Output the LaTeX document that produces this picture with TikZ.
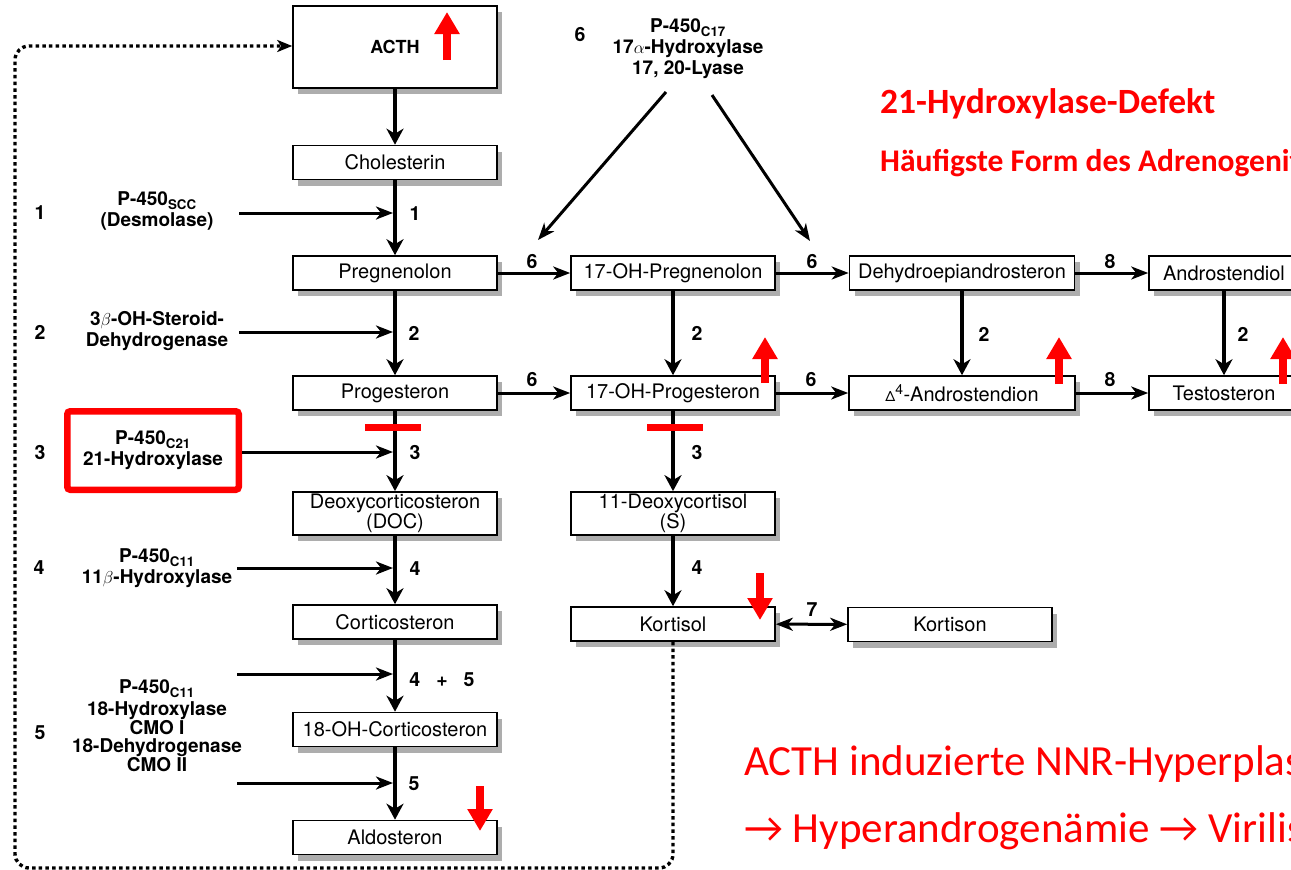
\documentclass[tikz,border=0pt]{standalone}
\usepackage{fontspec}
\setmainfont{TeX Gyre Heros}
\newfontfamily\calibri{Carlito}
\usetikzlibrary{arrows.meta,shadows}
\tikzset{
  box/.style={draw, line width=1.6pt, fill=white, minimum width=204pt, minimum height=34pt,
    inner sep=2pt, align=center, font=\fontsize{20}{18}\selectfont,
    general shadow={fill=black!32, shadow xshift=5pt, shadow yshift=-6pt}},
  lab/.style={font=\bfseries\fontsize{19}{21}\selectfont, align=center, inner sep=0pt},
  num/.style={font=\bfseries\fontsize{19.5}{19.5}\selectfont, inner sep=0pt},
  mainarr/.style={line width=3.8pt, -{Stealth[length=16pt,width=17pt,inset=5pt]}},
  enz/.style={line width=3pt, -{Stealth[length=17pt,width=13pt,inset=5pt]}},
  dblarr/.style={line width=3pt, {Stealth[length=17pt,width=13pt,inset=5pt]}-{Stealth[length=17pt,width=13pt,inset=5pt]}},
  redarr/.style={draw=red, line width=8pt, -{Triangle[length=22pt,width=24pt]}},
  redbar/.style={fill=red},
  feedback/.style={line width=3.4pt, dash pattern=on 3.5pt off 3.2pt, rounded corners=14pt,
    -{Stealth[length=15pt,width=12pt,inset=4pt]}},
  redtext/.style={anchor=base west, text=red, inner sep=0pt},
}
\begin{document}
\begin{tikzpicture}[x=1pt,y=-1pt]
\clip (0,0) rectangle (1291,870);
\fill[white] (0,0) rectangle (1291,870);

% ---- boxes ----
\node[box, minimum height=82pt, font=\bfseries\fontsize{18}{18}\selectfont] (acth) at (395,47) {ACTH};
\node[box] (chol) at (395,162.5) {Cholesterin};
\node[box] (preg) at (395,273) {Pregnenolon};
\node[box] (prog) at (395,393) {Progesteron};
\node[box, minimum height=43pt] (doc) at (395,513.5) {Deoxycorticosteron\\(DOC)};
\node[box] (cort) at (395,622) {Corticosteron};
\node[box] (ohc) at (395,729.5) {18-OH-Corticosteron};
\node[box] (aldo) at (395,837.5) {Aldosteron};

\node[box] (ohpreg) at (673,273) {17-OH-Pregnenolon};
\node[box] (ohprog) at (673,393) {17-OH-Progesteron};
\node[box, minimum height=43pt] (deoxy) at (673,513.5) {11-Deoxycortisol\\(S)};
\node[box] (kortisol) at (673,624) {Kortisol};

\node[box, minimum width=225pt] (dhea) at (962,273) {Dehydroepiandrosteron};
\node[box, minimum width=226pt] (andro) at (962,393) {{\fontsize{14}{14}\selectfont Δ}\textsuperscript{4}-Androstendion};
\node[box] (kortison) at (950,624.5) {Kortison};

\node[box, minimum width=150pt] (diol) at (1224,273) {Androstendiol};
\node[box, minimum width=150pt] (testo) at (1224,393) {Testosteron};

% ---- enzyme labels ----
\node[lab] (l1) at (157,211) {P-450\textsubscript{SCC}\\(Desmolase)};
\node[lab] (l2) at (157,331) {3$\beta$-OH-Steroid-\\Dehydrogenase};
\node[lab, draw=red, line width=6.5pt, rounded corners=3pt, minimum width=171.5pt, minimum height=78.5pt] (l3) at (153,450.5) {P-450\textsubscript{C21}\\21-Hydroxylase};
\node[lab] (l4) at (157,568) {P-450\textsubscript{C11}\\11$\beta$-Hydroxylase};
\node[lab, font=\bfseries\fontsize{19}{17.8}\selectfont] (l5) at (157,726) {P-450\textsubscript{C11}\\[3pt]18-Hydroxylase\\CMO I\\18-Dehydrogenase\\CMO II};
\node[lab] (l6) at (688,49) {P-450\textsubscript{C17}\\17$\alpha$-Hydroxylase\\17, 20-Lyase};

\node[num] (n1) at (40,213) {1};
\node[num] (n2) at (40,332) {2};
\node[num] (n3) at (40,453) {3};
\node[num] (n4) at (39,568) {4};
\node[num] (n5) at (40,733) {5};
\node[num] (n6) at (580,35) {6};

% ---- main column arrows ----
\draw[mainarr] (acth) -- (chol);
\draw[mainarr] (chol) -- (preg);
\draw[mainarr] (preg) -- (prog);
\draw[mainarr] (prog) -- (doc);
\draw[mainarr] (doc) -- (cort);
\draw[mainarr] (cort) -- (ohc);
\draw[mainarr] (ohc) -- (aldo);

\draw[mainarr] (ohpreg) -- (ohprog);
\draw[mainarr] (ohprog) -- (deoxy);
\draw[mainarr] (deoxy) -- (kortisol);
\draw[mainarr] (dhea) -- (andro);
\draw[mainarr] (diol) -- (testo);

% ---- enzyme arrows ----
\coordinate (e1s) at (239,213);  \coordinate (e1e) at (393,213);
\coordinate (e2s) at (239,332);  \coordinate (e2e) at (393,332);
\coordinate (e4s) at (237,568);  \coordinate (e4e) at (393,568);
\coordinate (e45s) at (237,674); \coordinate (e45e) at (393,674);
\coordinate (e5s) at (237,783);  \coordinate (e5e) at (393,783);
\coordinate (e3e) at (393,452);
\draw[enz] (e1s) -- (e1e);
\draw[enz] (e2s) -- (e2e);
\draw[enz] (l3.east |- e3e) -- (e3e);
\draw[enz] (e4s) -- (e4e);
\draw[enz] (e45s) -- (e45e);
\draw[enz] (e5s) -- (e5e);

\node[num] at (415,214) {1};
\node[num] at (414,333) {2};
\node[num] at (415,453) {3};
\node[num] at (415,569) {4};
\node[num] at (442,680) {4\hspace{16pt}+\hspace{16pt}5};
\node[num] at (414,784) {5};

% ---- horizontal row arrows ----
\draw[enz] (preg) -- (ohpreg);
\draw[enz] (ohpreg) -- (dhea);
\draw[enz] (dhea) -- (diol);
\draw[enz] (prog) -- (ohprog);
\draw[enz] (ohprog) -- (andro);
\draw[enz] (andro) -- (testo);
\draw[dblarr] (kortisol) -- (kortison);

\node[num] at (532,262) {6};
\node[num] at (812,262) {6};
\node[num] at (1110,262) {8};
\node[num] at (532,380) {6};
\node[num] at (811,380) {6};
\node[num] at (1110,380) {8};
\node[num] at (697,333) {2};
\node[num] at (984,334) {2};
\node[num] at (1243,334) {2};
\node[num] at (697,453) {3};
\node[num] at (697,568) {4};
\node[num] at (812,610) {7};

% ---- diagonal arrows from 6 ----
\coordinate (d1s) at (666,92);  \coordinate (d1e) at (538,240);
\coordinate (d2s) at (712,95);  \coordinate (d2e) at (810,241);
\draw[enz] (d1s) -- (d1e);
\draw[enz] (d2s) -- (d2e);

% ---- feedback loop ----
\coordinate (fb1) at (673,868);
\coordinate (fb2) at (15,868);
\coordinate (fb3) at (15,46);
\draw[feedback] (kortisol.south) -- (fb1) -- (fb2) -- (fb3) -- (acth.west |- fb3);

% ---- red marks ----
\fill[redbar] (365,424) rectangle (421,431);
\fill[redbar] (647,424) rectangle (703,431);
\draw[redarr] (447,60) -- (447,12);
\draw[redarr] (765,383) -- (765,337);
\draw[redarr] (1059,384) -- (1059,337);
\draw[redarr] (1283,384) -- (1283,337);
\draw[redarr] (480,786) -- (480,831);
\draw[redarr] (760,573) -- (760,620);

% ---- red texts ----
\node[redtext, font=\calibri\bfseries\fontsize{35.5}{35.5}\selectfont] (t1) at (880,113) {21-Hydroxylase-Defekt};
\node[redtext, font=\calibri\bfseries\fontsize{31.5}{31.5}\selectfont] (t2) at (880,171) {Häufigste Form des Adrenogenitalen Syndroms};
\node[redtext, font=\calibri\fontsize{43}{43}\selectfont] (t3) at (744,775) {ACTH induzierte NNR-Hyperplasie};
\node[redtext, font=\calibri\fontsize{43}{43}\selectfont] (t4) at (744,842) {→ Hyperandrogenämie → Virilisierung};
\end{tikzpicture}
\end{document}
